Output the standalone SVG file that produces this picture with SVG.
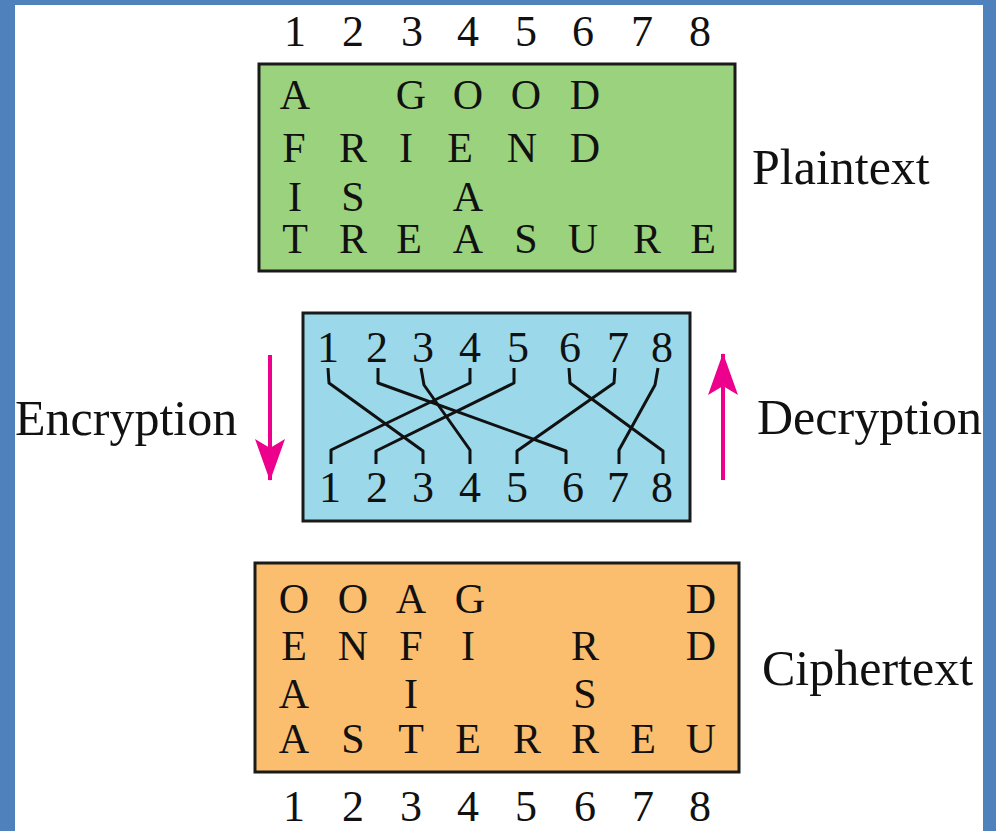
<svg xmlns="http://www.w3.org/2000/svg" width="996" height="831" viewBox="0 0 996 831">
  <style>
    .t { font-family: "Liberation Serif", "Times New Roman", serif; fill: #111; }
    .num { font-size: 44px; text-anchor: middle; }
    .ch { font-size: 42px; text-anchor: middle; }
    .lbl { font-size: 50px; }
    .box { stroke: #1a1a1a; stroke-width: 3; }
    .wire { fill: none; stroke: #111; stroke-width: 3; stroke-linejoin: round; }
    .arr { stroke: #ec008c; stroke-width: 4; fill: none; }
  </style>
  <defs>
    <marker id="head" viewBox="0 0 42 30" refX="41" refY="15" markerWidth="42" markerHeight="30" markerUnits="userSpaceOnUse" orient="auto">
      <path d="M42 15 L0 0 L9 15 L0 30 Z" fill="#ec008c"/>
    </marker>
  </defs>

  <!-- frame -->
  <rect x="0" y="0" width="996" height="831" fill="#ffffff"/>
  <rect x="0" y="0" width="996" height="5" fill="#4f81bd"/>
  <rect x="0" y="0" width="15" height="831" fill="#4f81bd"/>
  <rect x="983" y="0" width="13" height="831" fill="#4f81bd"/>

  <!-- column numbers above plaintext -->
  <g id="top-numbers" class="t num">
    <text x="295" y="46">1</text><text x="353" y="46">2</text><text x="412" y="46">3</text><text x="468" y="46">4</text>
    <text x="526" y="46">5</text><text x="583" y="46">6</text><text x="642" y="46">7</text><text x="700" y="46">8</text>
  </g>

  <!-- plaintext grid -->
  <g id="plaintext">
    <rect class="box" x="259" y="64" width="476" height="207" fill="#9bd27e"/>
    <g class="t ch">
      <text x="295" y="109">A</text><text x="411" y="109">G</text><text x="468" y="109">O</text><text x="526" y="109">O</text><text x="585" y="109">D</text>
      <text x="294" y="162">F</text><text x="353" y="162">R</text><text x="406" y="162">I</text><text x="460" y="162">E</text><text x="522" y="162">N</text><text x="585" y="162">D</text>
      <text x="295" y="211">I</text><text x="353" y="211">S</text><text x="468" y="211">A</text>
      <text x="295" y="253">T</text><text x="353" y="253">R</text><text x="409" y="253">E</text><text x="468" y="253">A</text>
      <text x="526" y="253">S</text><text x="583" y="253">U</text><text x="647" y="253">R</text><text x="703" y="253">E</text>
    </g>
    <text class="t lbl" x="752" y="184">Plaintext</text>
  </g>

  <!-- permutation box -->
  <g id="permutation">
    <rect class="box" x="303" y="313" width="387" height="208" fill="#9bd9ea"/>
    <g class="t num">
      <text x="328" y="362">1</text><text x="377" y="362">2</text><text x="423" y="362">3</text><text x="470" y="362">4</text>
      <text x="518" y="362">5</text><text x="570" y="362">6</text><text x="618" y="362">7</text><text x="662" y="362">8</text>
      <text x="330" y="502">1</text><text x="377" y="502">2</text><text x="423" y="502">3</text><text x="470" y="502">4</text>
      <text x="517" y="502">5</text><text x="573" y="502">6</text><text x="618" y="502">7</text><text x="662" y="502">8</text>
    </g>
  </g>

  <!-- connectors -->
  <g id="connectors">
    <path class="wire" d="M328 368 L329 383 L423 451 L423 464"/>
    <path class="wire" d="M378 368 L378 383 L566 451 L566 464"/>
    <path class="wire" d="M421 368 L424 385 L470 450 L470 464"/>
    <path class="wire" d="M470 368 L470 383 L331 450 L331 464"/>
    <path class="wire" d="M514 368 L514 383 L376 451 L376 464"/>
    <path class="wire" d="M569 368 L570 383 L663 451 L663 464"/>
    <path class="wire" d="M615 368 L614 383 L517 451 L517 464"/>
    <path class="wire" d="M658 368 L655 385 L619 450 L619 464"/>
    <line class="arr" x1="270" y1="355" x2="270" y2="480" marker-end="url(#head)"/>
    <line class="arr" x1="723" y1="480" x2="723" y2="354" marker-end="url(#head)"/>
  </g>

  <g id="encryption-label"><text class="t lbl" x="15" y="435">Encryption</text></g>
  <g id="decryption-label"><text class="t lbl" x="757" y="434">Decryption</text></g>

  <!-- ciphertext grid -->
  <g id="ciphertext">
    <rect class="box" x="255" y="563" width="484" height="209" fill="#fbbe6e"/>
    <g class="t ch">
      <text x="294" y="613">O</text><text x="353" y="613">O</text><text x="411" y="613">A</text><text x="470" y="613">G</text><text x="701" y="613">D</text>
      <text x="294" y="660">E</text><text x="353" y="660">N</text><text x="411" y="660">F</text><text x="468" y="660">I</text><text x="585" y="660">R</text><text x="701" y="660">D</text>
      <text x="294" y="708">A</text><text x="411" y="708">I</text><text x="585" y="708">S</text>
      <text x="294" y="753">A</text><text x="353" y="753">S</text><text x="411" y="753">T</text><text x="468" y="753">E</text>
      <text x="527" y="753">R</text><text x="585" y="753">R</text><text x="643" y="753">E</text><text x="701" y="753">U</text>
    </g>
    <text class="t lbl" x="762" y="685">Ciphertext</text>
  </g>

  <!-- column numbers below ciphertext -->
  <g id="bottom-numbers" class="t num">
    <text x="294" y="821">1</text><text x="353" y="821">2</text><text x="411" y="821">3</text><text x="468" y="821">4</text>
    <text x="526" y="821">5</text><text x="585" y="821">6</text><text x="643" y="821">7</text><text x="700" y="821">8</text>
  </g>
</svg>
